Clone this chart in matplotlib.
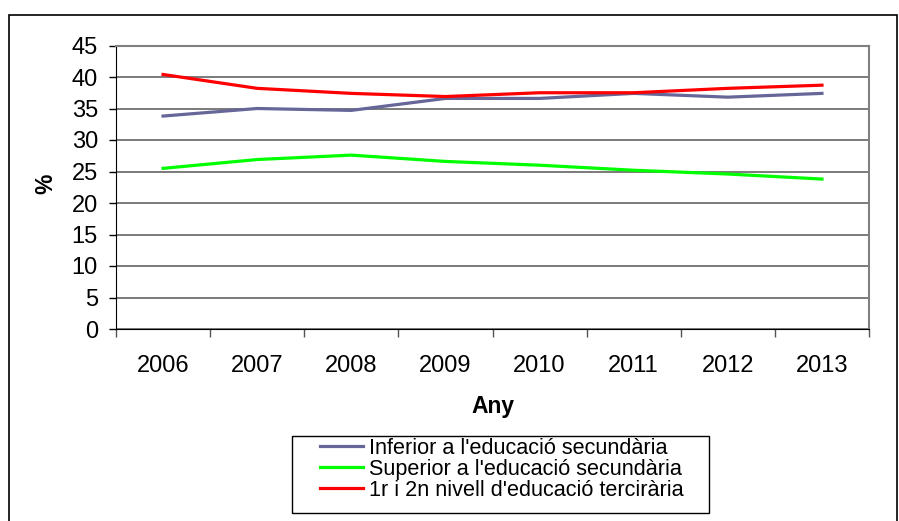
import matplotlib
matplotlib.use('Agg')
import matplotlib.pyplot as plt
from matplotlib.patches import Rectangle

plt.rcParams['font.family'] = ['Liberation Sans', 'DejaVu Sans']

years = ['2006', '2007', '2008', '2009', '2010', '2011', '2012', '2013']
inferior = [33.8, 35.0, 34.7, 36.6, 36.6, 37.4, 36.8, 37.4]
superior = [25.5, 26.9, 27.6, 26.6, 26.0, 25.2, 24.6, 23.8]
terciaria = [40.4, 38.2, 37.4, 36.9, 37.5, 37.5, 38.2, 38.7]
labels = ["Inferior a l'educació secundària",
          "Superior a l'educació secundària",
          "1r i 2n nivell d'educació tercirària"]

W, H = 899, 521
fig = plt.figure(figsize=(W / 100, H / 100), dpi=100)
ax = fig.add_axes([116 / W, 1 - 329 / H, 753 / W, 283.5 / H])

x = list(range(len(years)))
ax.plot(x, inferior, color='#666699', lw=2.3, label=labels[0])
ax.plot(x, superior, color='#00ff00', lw=2.3, label=labels[1])
ax.plot(x, terciaria, color='#ff0000', lw=2.3, label=labels[2])

ax.set_xlim(-0.5, len(years) - 0.5)
ax.set_ylim(0, 45)
ax.set_yticks(range(0, 46, 5))
ax.set_xticks(x)
ax.set_xticklabels(years)
ax.set_xticks([i - 0.5 for i in range(len(years) + 1)], minor=True)
ax.tick_params(axis='x', which='major', length=0, pad=19, labelsize=17)
ax.tick_params(axis='x', which='minor', length=6, width=1, color='#555555')
ax.tick_params(axis='y', length=5, width=1, pad=8, labelsize=17)
ax.grid(axis='y', color='#707070', lw=1.3)
ax.set_axisbelow(True)

for s in ['top', 'right']:
    ax.spines[s].set_color('#808080')
    ax.spines[s].set_linewidth(1.5)
ax.spines['left'].set_color('black')
ax.spines['bottom'].set_color('black')

ax.set_xlabel('Any', fontsize=16.5, fontweight='bold', va='center')
ax.xaxis.set_label_coords(0.5, -0.275)
ax.set_ylabel('%', fontsize=16.5, fontweight='bold', va='center')
ax.yaxis.set_label_coords(-0.093, 0.511)

# legend without its own frame; the box is drawn separately, Excel style
leg = fig.legend(loc='upper left', bbox_to_anchor=(320 / W, 1 - 438 / H),
                 fontsize=15.6, frameon=False,
                 handlelength=1.98, handletextpad=0.28, labelspacing=0.0,
                 borderpad=0, borderaxespad=0)
fig.patches.append(Rectangle((292 / W, 1 - 513 / H), 417 / W, 77 / H,
                             transform=fig.transFigure, fill=False,
                             edgecolor='black', lw=1.0))

# outer chart frame
fig.patches.append(Rectangle((9 / W, -0.02), 888 / W, 1 - 15 / H + 0.02,
                             transform=fig.transFigure, fill=False,
                             edgecolor='black', lw=1.2))

fig.savefig('out.png', dpi=100)
